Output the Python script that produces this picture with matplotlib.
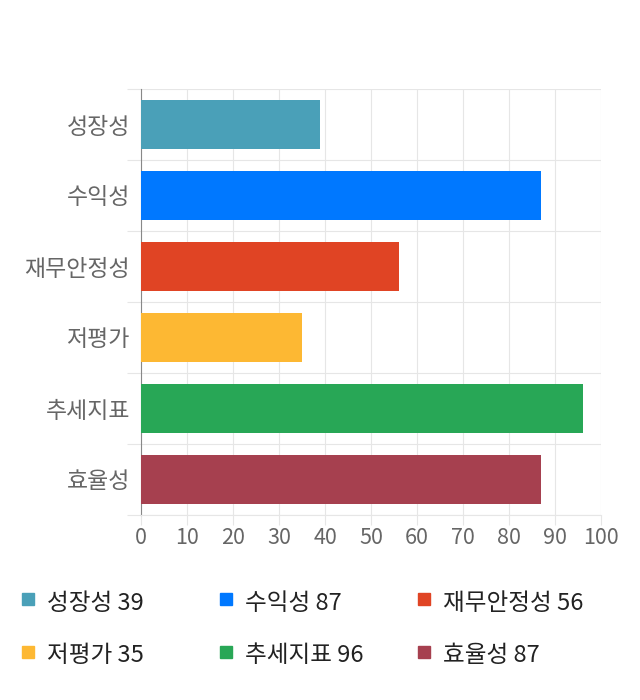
import matplotlib
matplotlib.use("Agg")
import matplotlib.pyplot as plt
from matplotlib.patches import Rectangle

plt.rcParams["font.family"] = ["Noto Sans CJK KR", "DejaVu Sans"]

# Chart data
categories = ["성장성", "수익성", "재무안정성", "저평가", "추세지표", "효율성"]
scores = [39, 87, 56, 35, 96, 87]
colors = ["#4aa0b8", "#0078ff", "#e04424", "#fdb833", "#28a756", "#a6404f"]
x_ticks = list(range(0, 101, 10))

W, H = 640, 700
fig = plt.figure(figsize=(W / 100, H / 100), dpi=100)
ax = fig.add_axes([141 / W, 1 - 515 / H, 460 / W, 426 / H])

y_pos = list(range(len(categories)))
ax.barh(y_pos, scores, height=0.69, color=colors, zorder=3)

ax.set_xlim(0, 100)
ax.set_ylim(len(categories) - 0.5, -0.5)
ax.set_xticks(x_ticks)
ax.set_xticklabels([str(t) for t in x_ticks])
ax.set_yticks(y_pos)
ax.set_yticklabels(categories)

# gridlines at category boundaries
ax.set_yticks([i - 0.5 for i in range(len(categories) + 1)], minor=True)
ax.grid(True, axis="x", which="major", color="#e6e6e6", linewidth=0.8, zorder=0)
ax.grid(True, axis="y", which="minor", color="#e6e6e6", linewidth=0.8, zorder=0)

ax.tick_params(axis="y", which="major", length=0, pad=8, labelsize=16.5,
               labelcolor="#666666")
ax.tick_params(axis="y", which="minor", length=10, color="#e6e6e6", width=0.8)
ax.tick_params(axis="x", length=7, color="#e6e6e6", width=0.8, pad=2,
               labelsize=15.5, labelcolor="#666666")

for side in ("top", "right"):
    ax.spines[side].set_visible(False)
ax.spines["bottom"].set_color("#e6e6e6")
ax.spines["left"].set_color("#888888")
ax.spines["left"].set_linewidth(0.8)

# legend in three columns
col_x = [22, 220, 418]
row_y = [603, 656]
for i, (name, val, c) in enumerate(zip(categories, scores, colors)):
    cx = col_x[i % 3]
    cy = row_y[i // 3]
    fig.patches.append(Rectangle((cx / W, 1 - (cy + 2) / H), 12 / W, 12 / H,
                                 transform=fig.transFigure, color=c))
    fig.text((cx + 25) / W, 1 - cy / H, f"{name} {val}", fontsize=17,
             color="#222222", va="center", ha="left")

fig.savefig("out.png", dpi=100)
